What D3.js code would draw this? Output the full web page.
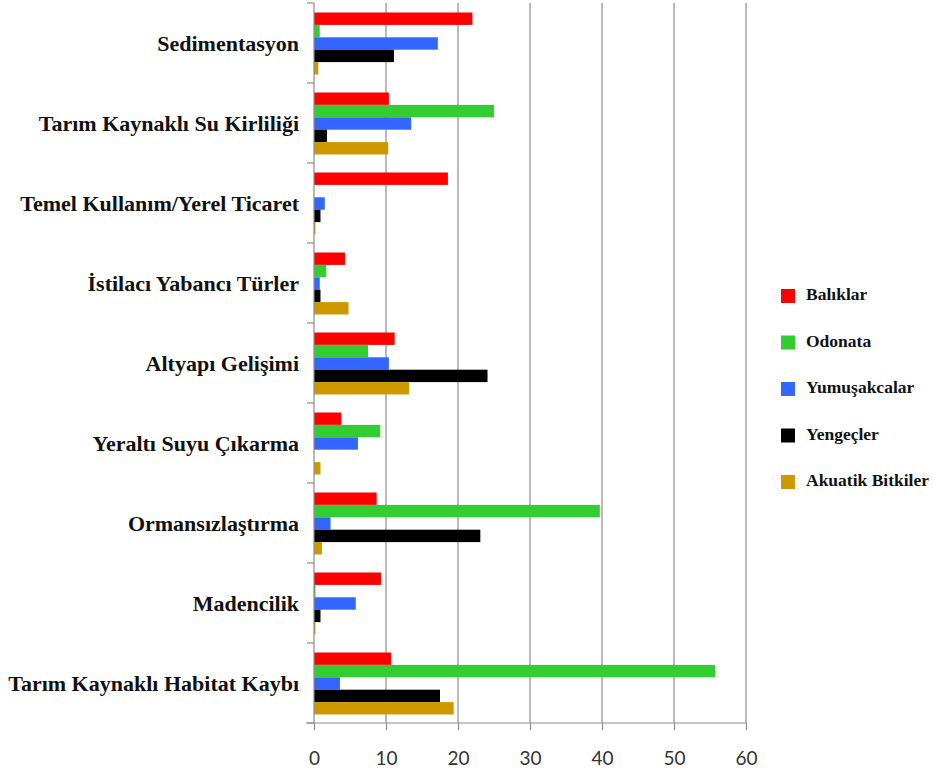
<!DOCTYPE html>
<html>
<head>
<meta charset="utf-8">
<script src="https://cdn.jsdelivr.net/npm/d3@7"></script>
<style>
  body { margin: 0; background: #fff; }
  .serif { font-family: "Liberation Serif", "DejaVu Serif", "Times New Roman", Times, serif; font-weight: bold; }
  .num { font-family: Lato, "Open Sans", sans-serif; }
</style>
</head>
<body>
<div id="chart"></div>
<script>
// categories top to bottom
const categories = [
  "Sedimentasyon",
  "Tarım Kaynaklı Su Kirliliği",
  "Temel Kullanım/Yerel Ticaret",
  "İstilacı Yabancı Türler",
  "Altyapı Gelişimi",
  "Yeraltı Suyu Çıkarma",
  "Ormansızlaştırma",
  "Madencilik",
  "Tarım Kaynaklı Habitat Kaybı"
];

const seriesNames = ["Balıklar", "Odonata", "Yumuşakcalar", "Yengeçler", "Akuatik Bitkiler"];
const seriesColors = ["#ff0000", "#33cc33", "#3366ff", "#000000", "#cc9900"];

// values per series, same order as categories
const baliklar = [22.0, 10.4, 18.6, 4.3, 11.2, 3.8, 8.7, 9.3, 10.7];
const odonata = [0.8, 25.0, 0, 1.7, 7.5, 9.2, 39.7, 0.2, 55.7];
const yumusakcalar = [17.2, 13.5, 1.5, 0.8, 10.4, 6.1, 2.3, 5.8, 3.6];
const yengecler = [11.1, 1.8, 0.9, 0.9, 24.1, 0, 23.1, 0.9, 17.5];
const akuatik = [0.6, 10.3, 0.2, 4.8, 13.2, 0.9, 1.1, 0.2, 19.4];

const xTicks = [0, 10, 20, 30, 40, 50, 60];

const seriesValues = [baliklar, odonata, yumusakcalar, yengecler, akuatik];

const width = 933, height = 776;

const svg = d3.select("#chart").append("svg")
  .attr("width", width)
  .attr("height", height);

const x = d3.scaleLinear().domain([0, 60]).range([314, 746]);
const y0 = d3.scaleBand().domain(categories).range([3, 723]);
const y1 = d3.scaleBand().domain(seriesNames).range([9.5, 71.5]);

// gridlines
svg.append("g")
  .selectAll("line")
  .data(xTicks.slice(1))
  .join("line")
  .attr("x1", d => x(d)).attr("x2", d => x(d))
  .attr("y1", 3).attr("y2", 723)
  .attr("stroke", "#8c8c8c")
  .attr("stroke-width", 1.2);

// bars
const rows = [];
categories.forEach((c, i) => {
  seriesNames.forEach((s, j) => {
    rows.push({ cat: c, series: s, value: seriesValues[j][i], color: seriesColors[j] });
  });
});

svg.append("g")
  .selectAll("rect")
  .data(rows)
  .join("rect")
  .attr("x", x(0))
  .attr("y", d => y0(d.cat) + y1(d.series))
  .attr("width", d => x(d.value) - x(0))
  .attr("height", y1.bandwidth())
  .attr("fill", d => d.color);

// bottom axis
const xAxis = svg.append("g")
  .attr("transform", "translate(0,723)")
  .call(d3.axisBottom(x).tickValues(xTicks).tickSize(7).tickPadding(22));
xAxis.select(".domain").attr("stroke", "#8c8c8c").attr("stroke-width", 1.2)
  .attr("d", "M306,0H746");
xAxis.selectAll(".tick line").attr("stroke", "#8c8c8c").attr("stroke-width", 1.2);
xAxis.selectAll(".tick text")
  .attr("class", "num")
  .attr("fill", "#333")
  .attr("font-family", null)
  .attr("font-size", "19px");

// left axis line with ticks at category boundaries
const bounds = categories.map(c => y0(c)).concat([y0.range()[1]]);
svg.append("line")
  .attr("x1", x(0)).attr("x2", x(0))
  .attr("y1", 3).attr("y2", 723)
  .attr("stroke", "#8c8c8c").attr("stroke-width", 1.2);
svg.append("g")
  .selectAll("line")
  .data(bounds)
  .join("line")
  .attr("x1", x(0) - 7).attr("x2", x(0))
  .attr("y1", d => d).attr("y2", d => d)
  .attr("stroke", "#8c8c8c").attr("stroke-width", 1.2);

// category labels
svg.append("g")
  .selectAll("text")
  .data(categories)
  .join("text")
  .attr("class", "serif")
  .attr("x", 299)
  .attr("y", d => y0(d) + y0.bandwidth() / 2 + 3)
  .attr("text-anchor", "end")
  .attr("dominant-baseline", "middle")
  .attr("font-size", "22px")
  .attr("fill", "#111")
  .text(d => d);

// legend
const legend = svg.append("g")
  .selectAll("g")
  .data(seriesNames)
  .join("g")
  .attr("transform", (d, i) => `translate(781,${296 + i * 46.5})`);

legend.append("rect")
  .attr("x", 0).attr("y", -7)
  .attr("width", 14).attr("height", 14)
  .attr("fill", (d, i) => seriesColors[i]);

legend.append("text")
  .attr("class", "serif")
  .attr("x", 25).attr("y", 0)
  .attr("dominant-baseline", "middle")
  .attr("font-size", "17.5px")
  .attr("fill", "#111")
  .text(d => d);
</script>
</body>
</html>
